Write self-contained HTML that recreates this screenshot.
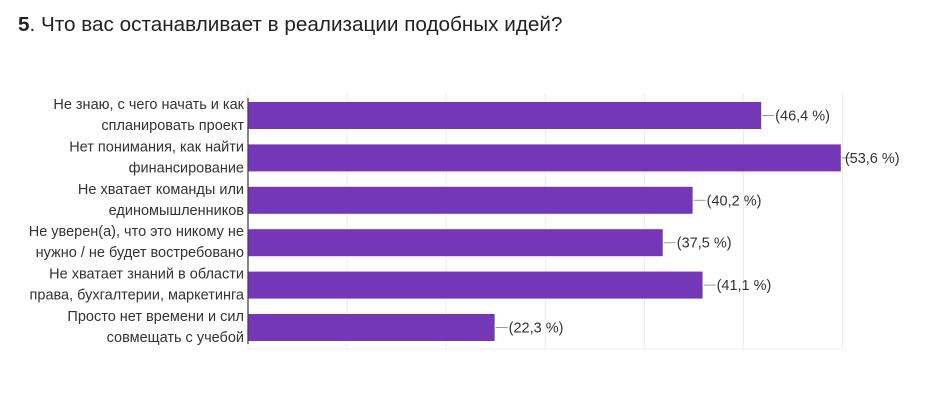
<!DOCTYPE html>
<html><head><meta charset="utf-8"><style>
body{margin:0;background:#fff;width:943px;height:401px;overflow:hidden}
svg{display:block;font-family:"Liberation Sans","Noto Sans CJK SC",sans-serif}
</style></head><body>
<svg id="chart" width="943" height="401">
<text x="18" y="31" font-size="20.7" fill="#222"><tspan font-weight="bold">5</tspan>. Что вас останавливает в реализации подобных идей?</text>
<g id="grid"></g><g id="bars"></g><g id="labels"></g>
</svg>
<script>
const categories1=["Не знаю, с чего начать и как","Нет понимания, как найти","Не хватает команды или","Не уверен(а), что это никому не","Не хватает знаний в области","Просто нет времени и сил"];
const categories2=["спланировать проект","финансирование","единомышленников","нужно / не будет востребовано","права, бухгалтерии, маркетинга","совмещать с учебой"];
const values=[46.4,53.6,40.2,37.5,41.1,22.3];
const valueLabels=["(46,4 %)","(53,6 %)","(40,2 %)","(37,5 %)","(41,1 %)","(22,3 %)"];
const gridTicks=[0,1,2,3,4,5,6];
const NS="http://www.w3.org/2000/svg";
const x0=248,pxPer=11.06,top0=93,rowH=42.4,barH=27,plotBottom=349;
const xs=v=>x0+v*pxPer;
const gridX=i=>x0+i*99.1;
function mk(tag,attrs,parent){const e=document.createElementNS(NS,tag);for(const k in attrs)e.setAttribute(k,attrs[k]);parent.appendChild(e);return e;}
const g=document.getElementById('grid'),b=document.getElementById('bars'),l=document.getElementById('labels');
gridTicks.forEach(t=>{const ln=mk('line',{x1:gridX(t),x2:gridX(t),y1:top0,y2:plotBottom,stroke:'#ececec','stroke-width':1},g);

});
const hz=mk('line',{x1:x0,x2:gridX(6),y1:plotBottom,y2:plotBottom,stroke:'#ececec'},g);


values.forEach((v,i)=>{
 const y=top0+9+i*rowH;
 const r=mk('rect',{x:x0,y:y,width:xs(v)-x0,height:barH,fill:'#7337b7'},b);
 
 
 const c=mk('line',{x1:xs(v)+1,x2:xs(v)+13,y1:y+barH/2,y2:y+barH/2,stroke:'#999','stroke-width':1},l);
 
 
 const t=mk('text',{x:xs(v)+(i==1?4:14),y:y+barH/2+5,'font-size':14.5,fill:'#333'},l);
 t.textContent=valueLabels[i];
 
 
 const c1=mk('text',{x:244,y:y+7,'font-size':14.5,fill:'#333','text-anchor':'end'},l);
 c1.textContent=categories1[i];
 
 
 const c2=mk('text',{x:244,y:y+28,'font-size':14.5,fill:'#333','text-anchor':'end'},l);
 c2.textContent=categories2[i];
 
 
});
const ax=mk('line',{x1:x0,x2:x0,y1:top0+5,y2:plotBottom-5,stroke:'#444','stroke-width':1.3},l);


</script>
</body></html>
